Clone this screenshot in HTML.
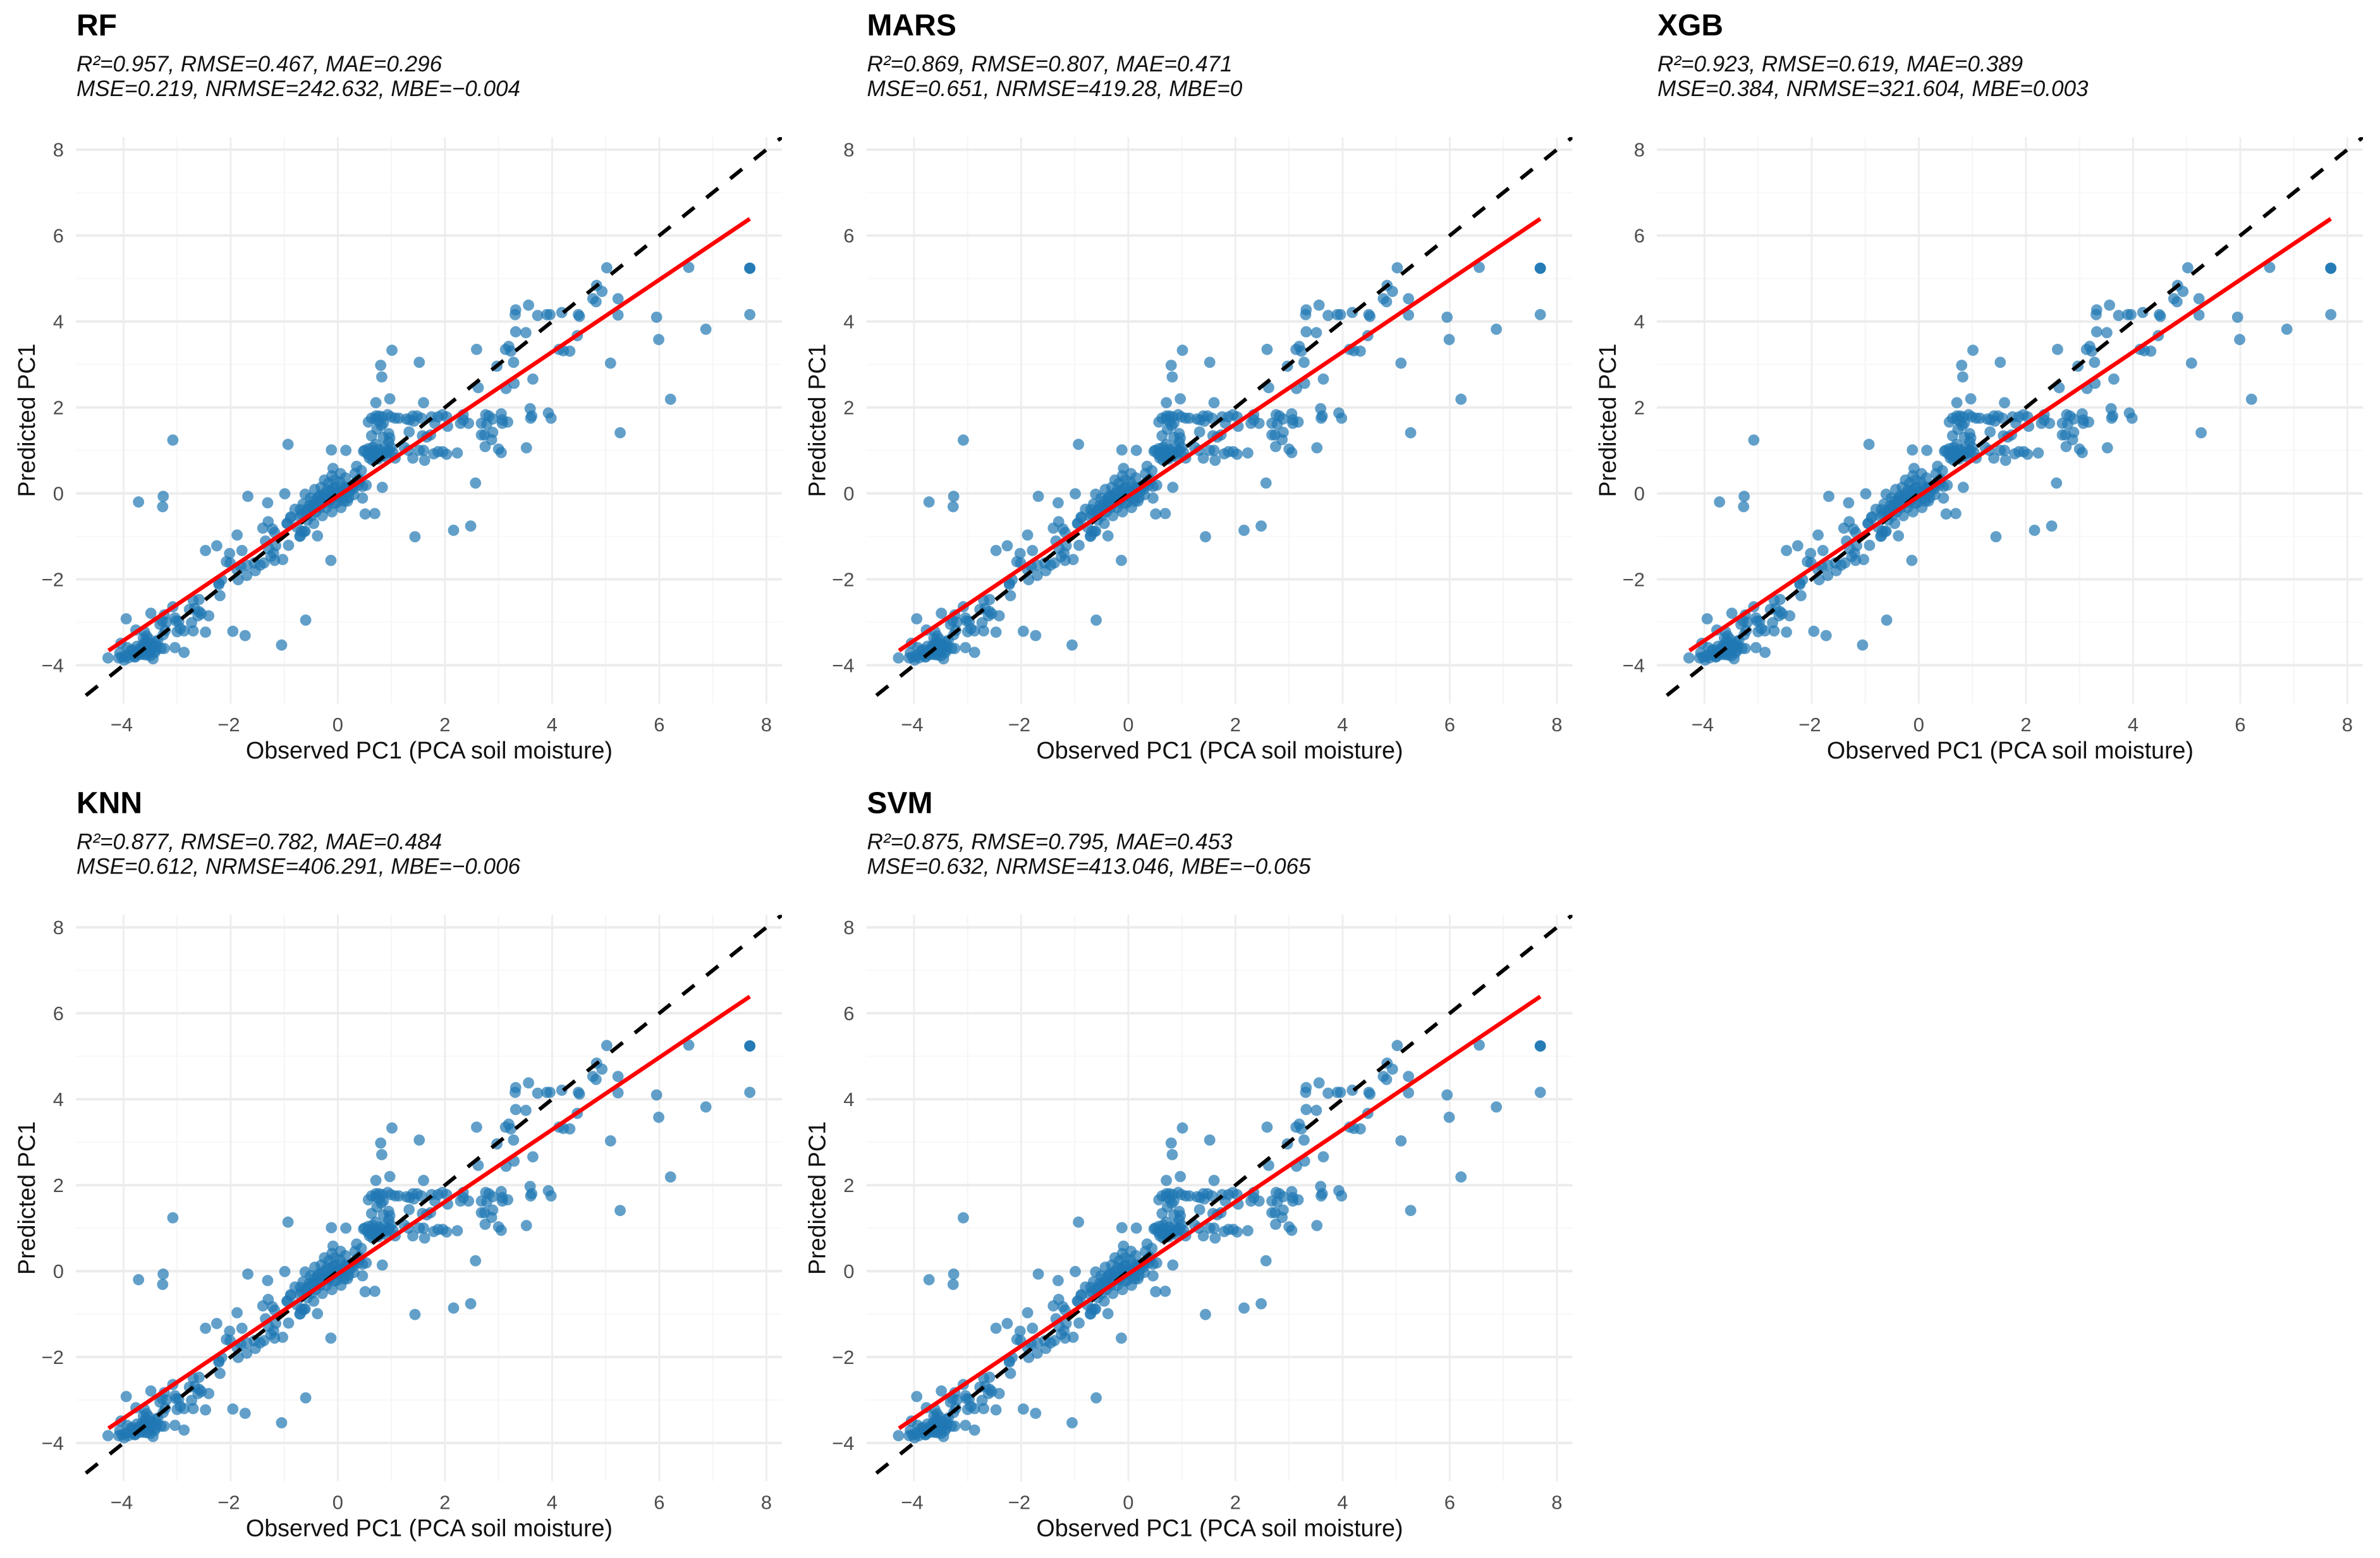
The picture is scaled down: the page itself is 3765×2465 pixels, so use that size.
<!DOCTYPE html>
<html lang="en">
<head>
<meta charset="utf-8">
<title>Observed vs predicted PC1 by model</title>
<style>
html,body{margin:0;padding:0;background:#fff;}
svg{display:block;}
text{font-family:"Liberation Sans",sans-serif;}
.t{font-size:48px;font-weight:bold;fill:#000;}
.s{font-size:35.1px;font-style:italic;fill:#111;}
.a{font-size:37.7px;fill:#111;}
.k{font-size:31px;fill:#4d4d4d;}
</style>
</head>
<body>
<svg id="figure" xmlns="http://www.w3.org/2000/svg" width="3765" height="2465" viewBox="0 0 3765 2465">
<defs><clipPath id="panel-clip"><rect x="120" y="217" width="1117" height="896"/></clipPath></defs>
<rect x="0" y="0" width="3765" height="2465" fill="#ffffff"/>

<g class="panel" transform="translate(0,0)">
<g class="plot"></g>
<text class="t" x="121" y="56">RF</text>
<text class="s" x="121" y="113">R²=0.957, RMSE=0.467, MAE=0.296</text>
<text class="s" x="121" y="152">MSE=0.219, NRMSE=242.632, MBE=−0.004</text>
<text class="a" x="679" y="1200" text-anchor="middle">Observed PC1 (PCA soil moisture)</text>
<text class="a" transform="translate(55,665) rotate(-90)" text-anchor="middle">Predicted PC1</text>
</g>

<g class="panel" transform="translate(1250.5,0)">
<g class="plot"></g>
<text class="t" x="121" y="56">MARS</text>
<text class="s" x="121" y="113">R²=0.869, RMSE=0.807, MAE=0.471</text>
<text class="s" x="121" y="152">MSE=0.651, NRMSE=419.28, MBE=0</text>
<text class="a" x="679" y="1200" text-anchor="middle">Observed PC1 (PCA soil moisture)</text>
<text class="a" transform="translate(55,665) rotate(-90)" text-anchor="middle">Predicted PC1</text>
</g>

<g class="panel" transform="translate(2501,0)">
<g class="plot"></g>
<text class="t" x="121" y="56">XGB</text>
<text class="s" x="121" y="113">R²=0.923, RMSE=0.619, MAE=0.389</text>
<text class="s" x="121" y="152">MSE=0.384, NRMSE=321.604, MBE=0.003</text>
<text class="a" x="679" y="1200" text-anchor="middle">Observed PC1 (PCA soil moisture)</text>
<text class="a" transform="translate(55,665) rotate(-90)" text-anchor="middle">Predicted PC1</text>
</g>

<g class="panel" transform="translate(0,1230.5)">
<g class="plot"></g>
<text class="t" x="121" y="56">KNN</text>
<text class="s" x="121" y="113">R²=0.877, RMSE=0.782, MAE=0.484</text>
<text class="s" x="121" y="152">MSE=0.612, NRMSE=406.291, MBE=−0.006</text>
<text class="a" x="679" y="1200" text-anchor="middle">Observed PC1 (PCA soil moisture)</text>
<text class="a" transform="translate(55,665) rotate(-90)" text-anchor="middle">Predicted PC1</text>
</g>

<g class="panel" transform="translate(1250.5,1230.5)">
<g class="plot"></g>
<text class="t" x="121" y="56">SVM</text>
<text class="s" x="121" y="113">R²=0.875, RMSE=0.795, MAE=0.453</text>
<text class="s" x="121" y="152">MSE=0.632, NRMSE=413.046, MBE=−0.065</text>
<text class="a" x="679" y="1200" text-anchor="middle">Observed PC1 (PCA soil moisture)</text>
<text class="a" transform="translate(55,665) rotate(-90)" text-anchor="middle">Predicted PC1</text>
</g>
</svg>

<script>
const observed = [
5.02,6.55,7.69,7.69,7.69,7.69,5.95,6.87,5.99,5.09,6.21,5.27,5.23,5.23,
4.83,4.93,4.76,4.82,3.56,3.32,3.31,3.73,3.90,3.96,4.18,4.49,4.51,
3.32,3.51,4.47,3.19,3.13,3.23,4.13,4.21,4.33,2.59,3.28,2.97,3.64,3.29,3.14,2.62,1.01,0.80,0.82,1.52,0.71,0.97,1.60,
.57,.63,.71,.77,.83,.93,.99,1.07,1.14,1.28,1.34,1.40,1.48,1.56,1.42,1.75,1.81,1.87,1.95,2.03,
2.05,2.29,2.34,2.34,2.44,2.68,2.76,2.82,2.78,2.89,3.05,3.07,3.07,3.17,3.59,3.62,3.60,3.93,3.98,
2.68,2.74,2.89,2.87,2.75,3.00,3.05,3.52,
.55,.59,.65,.57,.65,.71,.71,.77,.81,.87,.93,.99,1.03,.62,.77,.69,1.07,.50,
.60,.66,.74,.84,.90,.96,.75,.70,.90,
1.33,.63,.73,.81,.85,.95,.97,.95,1.58,1.73,1.66,.77,.85,.71,
1.32,1.40,1.52,1.60,1.62,1.24,1.79,1.87,1.96,2.03,2.23,
2.57,2.16,2.48,1.44,
-.93,-.12,.15,.48,-.99,.83,.46,.51,.69,-.38,-.09,.05,.35,.44,-.25,-.11,.04,-.43,-.61,.53,
-.80,-.88,-.94,-.70,-.63,-.76,-.45,-.29,-.11,-.65,-.51,-.31,-.17,-.06,.14,.32,.40,.46,.30,.18,
.06,-.25,-.37,-.45,-.57,-.68,-.49,-.57,-.41,-.21,-.06,.02,.12,.24,.38,-.13,-.25,-.35,-.45,-.06,
.06,.16,-.09,-.19,.10,-.02,-.33,-.53,-.70,
-.20,-.10,.0,.08,.16,.22,.28,-.30,-.38,-.15,-.05,.05,.12,.20,.34,
-3.72,-3.26,-3.27,-3.08,-1.68,-1.31,-1.88,-2.26,-2.47,-1.30,-1.40,-1.22,-1.18,-1.35,-.92,-1.16,-2.02,-1.79,-2.08,-2.01,
-1.20,-1.25,-1.03,-1.18,-1.38,-1.45,-1.54,-1.70,-1.86,-1.70,-1.81,-1.88,-2.17,-2.22,-1.29,-1.56,-.95,-.88,-.68,-.61,
-.71,-.13,-.60,-1.05,
-4.29,-3.95,-3.49,-3.08,-3.77,-4.05,-2.87,-3.04,-3.24,-3.45,
-2.47,-2.70,-2.87,-2.73,-2.41,-2.59,-2.70,-2.20,-2.22,-1.96,
-1.73,-3.24,-3.28,-3.20,-3.32,-3.22,-3.26,-3.04,-2.97,-3.02,
-3.00,-2.94,-2.77,-2.67,-2.59,-2.55,-2.61,-4.07,-4.03,-4.09,
-3.99,-3.91,-3.79,-3.83,-3.75,-3.65,-3.59,-3.61,-3.57,-3.54,
-3.48,-3.40,-3.38,-3.30,-3.57,-3.50,-3.42,-3.67,-3.87,-3.73,
-3.93,-3.63,-3.36,-3.83,-3.60,-3.70,-3.46,-3.52,-3.62,-3.96,
-3.75,-3.70,-3.65,-3.55,-3.50,-3.45,-3.68,-3.78,-3.58,-3.40,
-.70,-.60,-.50,-.40,-.30,-.20,-.10,.00,.10,.20,.30,.40
];
const predicted = [
5.25,5.26,5.24,5.24,5.24,4.16,4.10,3.82,3.58,3.03,2.19,1.41,4.53,4.15,
4.84,4.70,4.53,4.46,4.38,4.27,4.16,4.14,4.16,4.16,4.21,4.16,4.12,
3.76,3.74,3.67,3.42,3.35,3.31,3.35,3.32,3.31,3.35,3.05,2.96,2.66,2.56,2.44,2.46,3.33,2.98,2.71,3.05,2.11,2.20,2.11,
1.66,1.75,1.80,1.80,1.78,1.83,1.78,1.75,1.75,1.73,1.71,1.80,1.80,1.75,1.68,1.78,1.63,1.78,1.83,1.78,
1.56,1.63,1.83,1.71,1.63,1.63,1.83,1.80,1.61,1.73,1.85,1.71,1.63,1.66,1.97,1.80,1.75,1.87,1.75,
1.36,1.36,1.42,1.25,1.09,1.03,.95,1.06,
.92,.82,.77,1.04,1.07,1.14,.95,1.02,.87,1.07,.97,1.07,.95,.95,.90,.85,.82,1.0,
.88,.99,.85,.96,.93,1.0,.80,.82,.85,
1.43,1.34,1.49,1.58,1.31,1.39,1.29,1.19,1.34,1.36,1.31,1.68,1.63,1.73,
1.0,.82,1.0,1.0,.77,1.07,.92,.97,.97,.91,.94,
.24,-.86,-.76,-1.01,
1.14,1.01,1.0,.98,-.01,.14,-.11,-.48,-.47,-.99,.58,.46,.63,.53,.31,.41,.26,.09,-.02,.19,
-.37,-.55,-.70,-.99,-.89,-.79,-.70,-.52,-.43,-.25,-.11,.14,.24,.31,.36,.46,.33,.16,-.03,-.18,
-.33,-.13,-.23,-.28,-.38,-.48,-.52,-.62,-.43,-.33,-.23,-.08,.04,.14,.19,.06,-.01,-.06,-.18,.14,
.14,.14,-.08,-.21,-.11,-.21,-.33,-.28,-.38,
.08,.10,.03,.05,.12,.04,.10,-.08,-.12,-.17,-.06,-.02,-.18,-.10,.26,
-.20,-.07,-.31,1.24,-.07,-.22,-.97,-1.22,-1.33,-.66,-.81,-.83,-.91,-1.11,-1.21,-1.22,-1.40,-1.33,-1.59,-1.62,
-1.39,-1.47,-1.54,-1.56,-1.62,-1.67,-1.80,-1.91,-2.01,-1.67,-1.70,-1.78,-2.01,-2.09,-1.28,-1.62,-.70,-.57,-.89,-.88,
-1.0,-1.56,-2.95,-3.53,
-3.83,-2.92,-2.79,-2.64,-3.18,-3.49,-3.70,-3.59,-3.61,-3.85,
-3.23,-3.20,-3.20,-3.01,-2.85,-2.47,-2.49,-2.38,-2.12,-3.21,
-3.31,-2.83,-2.97,-3.00,-3.05,-3.19,-3.29,-2.90,-2.98,-2.97,
-3.22,-3.15,-2.70,-2.68,-2.75,-2.80,-2.85,-3.71,-3.81,-3.83,
-3.88,-3.83,-3.81,-3.64,-3.56,-3.54,-3.44,-3.22,-3.32,-3.66,
-3.51,-3.46,-3.56,-3.61,-3.76,-3.78,-3.71,-3.69,-3.66,-3.71,
-3.59,-3.37,-3.42,-3.76,-3.60,-3.62,-3.60,-3.40,-3.75,-3.78,
-3.70,-3.66,-3.62,-3.60,-3.68,-3.55,-3.75,-3.80,-3.50,-3.65,
-.55,-.45,-.35,-.25,-.20,-.15,-.05,-.05,.05,.12,.20,.28
];
const fitObserved = [-4.28, 7.69];
const fitPredicted = [-3.66, 6.39];
const majorTicks = [-4, -2, 0, 2, 4, 6, 8];
const minorTicks = [-3, -1, 1, 3, 5, 7];
const tickLabels = ['−4', '−2', '0', '2', '4', '6', '8'];
const domain = [-4.89, 8.29];

const SVGNS = 'http://www.w3.org/2000/svg';
function xScale(v) { return 120 + (v - domain[0]) / (domain[1] - domain[0]) * 1117; }
function yScale(v) { return 1113 - (v - domain[0]) / (domain[1] - domain[0]) * 896; }
function make(tag, parent) {
  const el = document.createElementNS(SVGNS, tag);
  parent.appendChild(el);
  return el;
}
function line(parent, x1, y1, x2, y2, color, width) {
  const el = make('line', parent);
  el.setAttribute('x1', x1);
  el.setAttribute('y1', y1);
  el.setAttribute('x2', x2);
  el.setAttribute('y2', y2);
  el.setAttribute('stroke', color);
  el.setAttribute('stroke-width', width);
  return el;
}

document.querySelectorAll('.plot').forEach(function (plot) {
  minorTicks.forEach(function (t) {
    const v = line(plot, xScale(t), 217, xScale(t), 1113, '#f5f5f5', 2);
    
    
    const h = line(plot, 120, yScale(t), 1237, yScale(t), '#f8f8f8', 2);
    
    
  });
  majorTicks.forEach(function (t, i) {
    const v = line(plot, xScale(t), 217, xScale(t), 1113, '#eeeeee', 3);
    
    
    const h = line(plot, 120, yScale(t), 1237, yScale(t), '#ececec', 4);
    
    
    const xl = make('text', plot);
    xl.setAttribute('class', 'k');
    
    
    xl.setAttribute('x', xScale(t) - (t < 0 ? 3 : 0));
    xl.setAttribute('y', 1157);
    xl.setAttribute('text-anchor', 'middle');
    xl.textContent = tickLabels[i];
    const yl = make('text', plot);
    yl.setAttribute('class', 'k');
    
    
    yl.setAttribute('x', 101);
    yl.setAttribute('y', yScale(t) + 11);
    yl.setAttribute('text-anchor', 'end');
    yl.textContent = tickLabels[i];
  });

  const clipped = make('g', plot);
  clipped.setAttribute('clip-path', 'url(#panel-clip)');
  
  

  observed.forEach(function (o, i) {
    const c = make('circle', clipped);
    
    
    c.setAttribute('cx', xScale(o));
    c.setAttribute('cy', yScale(predicted[i]));
    c.setAttribute('r', 8.9);
    c.setAttribute('fill', '#1f78b4');
    c.setAttribute('fill-opacity', 0.7);
  });

  const ref = line(clipped, xScale(domain[0]), yScale(domain[0]), xScale(domain[1]), yScale(domain[1]), '#000000', 6);
  
  
  ref.setAttribute('stroke-dasharray', '24 24.4');
  ref.setAttribute('stroke-dashoffset', '28.1');

  const fit = line(clipped, xScale(fitObserved[0]), yScale(fitPredicted[0]), xScale(fitObserved[1]), yScale(fitPredicted[1]), '#ff0000', 6.5);
  
  
});
</script>
</body>
</html>
